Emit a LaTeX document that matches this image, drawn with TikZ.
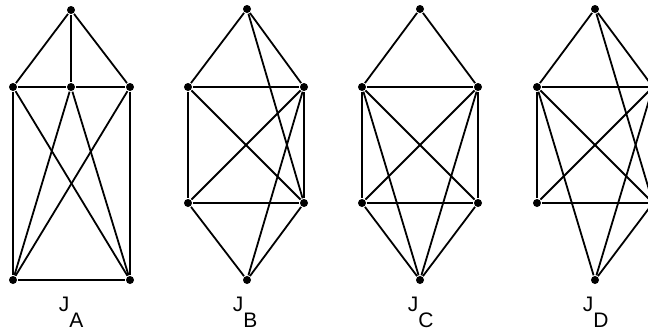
\documentclass[tikz,border=0pt]{standalone}
\usepackage{fontspec}
\setmainfont{Liberation Sans}
\newcommand\labfont{\fontsize{21pt}{24pt}\selectfont}
\begin{document}
\begin{tikzpicture}[x=1pt,y=-1pt,line width=1.8pt,
  vtx/.style={circle,fill=black,inner sep=0pt,minimum size=8pt},
  lab/.style={anchor=base west,inner sep=0pt,font=\labfont}]
  \useasboundingbox (0,0) rectangle (648,330);
  \clip (0,0) rectangle (648,330);
  % J_A
  \node[vtx] (at) at (71,10) {};
  \node[vtx] (al) at (13,87) {}; \node[vtx] (ac) at (71,87) {}; \node[vtx] (ar) at (130,87) {};
  \node[vtx] (abl) at (13,280) {}; \node[vtx] (abr) at (130,280) {};
  \draw (at) -- (al); \draw (at) -- (ac); \draw (at) -- (ar);
  \draw (al) -- (ac); \draw (ac) -- (ar);
  \draw (al) -- (abl); \draw (ar) -- (abr); \draw (abl) -- (abr);
  \draw (al) -- (abr); \draw (ar) -- (abl); \draw (ac) -- (abl); \draw (ac) -- (abr);
  \node[lab] (la) at (58,311) {J\raisebox{-16pt}{A}};
  % J_B
  \node[vtx] (bt) at (247,9) {};
  \node[vtx] (bl) at (188,87) {}; \node[vtx] (br) at (304,87) {};
  \node[vtx] (bbl) at (188,203) {}; \node[vtx] (bbr) at (304,203) {};
  \node[vtx] (bb) at (247,280) {};
  \draw (bt) -- (bl); \draw (bt) -- (br); \draw (bt) -- (bbr);
  \draw (bl) -- (br); \draw (bl) -- (bbl); \draw (br) -- (bbr); \draw (bbl) -- (bbr);
  \draw (bl) -- (bbr); \draw (br) -- (bbl);
  \draw (bbl) -- (bb); \draw (bbr) -- (bb); \draw (br) -- (bb);
  \node[lab] (lb) at (232,311) {J\raisebox{-16pt}{B}};
  % J_C
  \node[vtx] (ct) at (420,9) {};
  \node[vtx] (cl) at (362,87) {}; \node[vtx] (cr) at (478,87) {};
  \node[vtx] (cbl) at (362,203) {}; \node[vtx] (cbr) at (478,203) {};
  \node[vtx] (cb) at (420,280) {};
  \draw (ct) -- (cl); \draw (ct) -- (cr);
  \draw (cl) -- (cr); \draw (cl) -- (cbl); \draw (cr) -- (cbr); \draw (cbl) -- (cbr);
  \draw (cl) -- (cbr); \draw (cr) -- (cbl);
  \draw (cbl) -- (cb); \draw (cbr) -- (cb); \draw (cl) -- (cb); \draw (cr) -- (cb);
  \node[lab] (lc) at (407,311) {J\raisebox{-16pt}{C}};
  % J_D
  \node[vtx] (dt) at (595,9) {};
  \node[vtx] (dl) at (537,87) {}; \node[vtx] (dr) at (653,87) {};
  \node[vtx] (dbl) at (537,203) {}; \node[vtx] (dbr) at (653,203) {};
  \node[vtx] (db) at (595,280) {};
  \draw (dt) -- (dl); \draw (dt) -- (dr); \draw (dt) -- (dbr);
  \draw (dl) -- (dr); \draw (dl) -- (dbl); \draw (dbl) -- (dbr);
  \draw (dl) -- (dbr); \draw (dr) -- (dbl);
  \draw (dl) -- (db); \draw (dr) -- (db); \draw (dbr) -- (db);
  \node[lab] (ld) at (582,311) {J\raisebox{-16pt}{D}};
\end{tikzpicture}
\end{document}
